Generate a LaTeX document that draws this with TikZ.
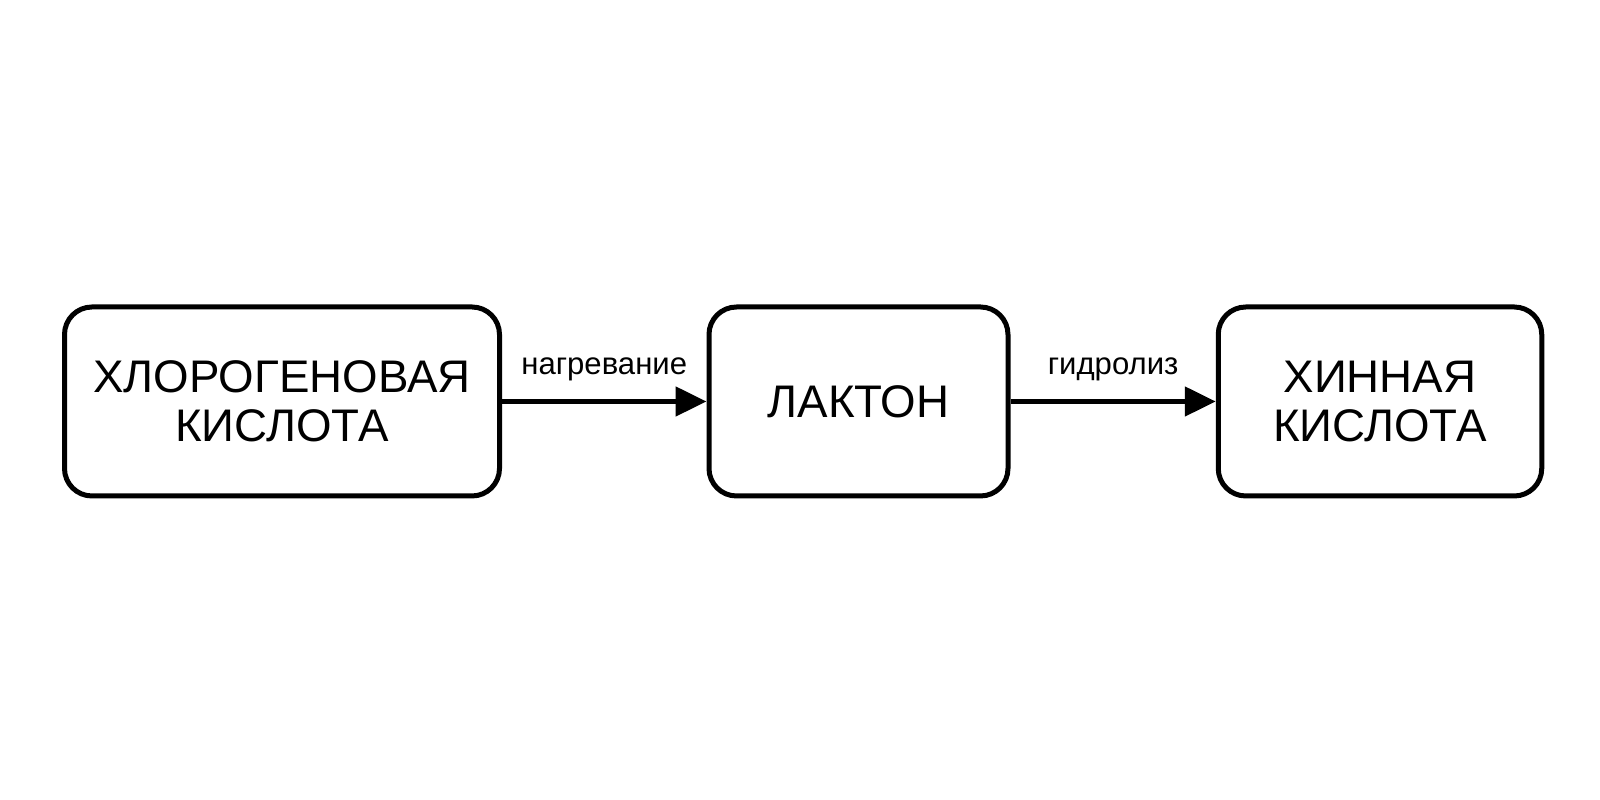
\documentclass[tikz,border=0pt]{standalone}
\usepackage{fontspec}
\setmainfont{Liberation Sans}
\usetikzlibrary{positioning, arrows.meta}
\tikzset{every picture/.style={line width=1mm}}
\tikzset{stage/.style={draw, rounded corners=0.55cm, minimum height=3.78cm, align=center, font=\fontsize{26}{28}\selectfont},
         flow/.style={-{Triangle[length=0.62cm, width=0.58cm]}},
         flowlabel/.style={above, font=\fontsize{17.7}{17.7}\selectfont, yshift=0.25cm}}

\begin{document}
\begin{tikzpicture}
          \useasboundingbox (0,0) rectangle (32,16);
          \node[stage, minimum width=8.7cm] (chlor) at (5.64,7.97) {ХЛОРОГЕНОВАЯ\\КИСЛОТА};
          \node[stage, minimum width=5.98cm] (lacton) at (17.17,7.97) {ЛАКТОН};
          \node[stage, minimum width=6.47cm] (chin) at (27.6,7.97) {ХИННАЯ\\КИСЛОТА};
          \draw[flow] (chlor) -- node[flowlabel]{нагревание} (lacton);
          \draw[flow] (lacton) -- node[flowlabel]{гидролиз} (chin);
        \end{tikzpicture}
\end{document}
